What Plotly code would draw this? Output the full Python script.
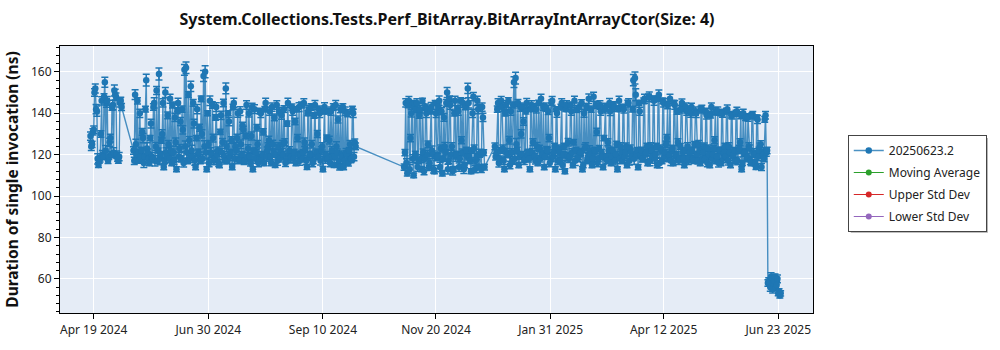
import pandas as pd
import plotly.graph_objects as go

# ---- data ----
# each segment: daily runs ("a", at 00:00) plus a second run each day ("b", at 12:00)
seg_starts = ["2024-04-17", "2024-05-14", "2024-10-31", "2024-12-27", "2025-06-17"]

seg1_a = [129, 125, 132, 152, 141, 115, 118, 146, 119, 155, 145, 117, 126, 120, 144, 151, 148, 118, 119, 146]
seg1_b = [124, 131, 150, 142, 118, 117, 130, 120, 148, 122, 146, 119, 128, 143, 121, 149, 120, 117, 145, 143]
seg1_err = [2.0, 1.5, 1.8, 2.2, 2.5, 1.2, 1.6, 2.0, 1.4, 2.4, 2.1, 1.3, 1.9, 1.5, 2.3, 2.6, 1.8, 1.2, 2.0, 1.7]

seg2_a = [
    122, 149, 120, 117, 140, 122, 128, 119, 156, 121,
    116, 135, 118, 145, 124, 117, 159, 120, 130, 114,
    150, 119, 125, 147, 116, 121, 138, 113, 145, 123,
    118, 132, 161, 162, 117, 127, 153, 119, 135, 114,
    142, 121, 117, 130, 158, 160, 113, 125, 146, 120,
    128, 118, 143, 122, 115, 139, 126, 119, 152, 117,
    136, 121, 114, 145, 124, 128, 118, 141, 120, 132,
    117, 144, 123, 119, 129, 113, 142, 121, 125, 118,
    140, 120, 116, 145, 122, 127, 119, 143, 121, 115,
    144, 124, 118, 139, 120, 126, 117, 145, 122, 119,
    141, 121, 116, 128, 143, 120, 118, 145, 123, 114,
    142, 120, 125, 117, 144, 121, 119, 140, 122, 113,
    143, 120, 118, 127, 141, 119, 115, 144, 121, 117,
    142, 119, 114, 141, 120, 116, 125, 118, 140, 126,
]
seg2_b = [
    117, 125, 146, 121, 119, 131, 116, 142, 123, 118,
    128, 119, 143, 117, 151, 122, 118, 127, 145, 117,
    121, 139, 118, 122, 144, 117, 126, 141, 119, 136,
    142, 116, 124, 121, 149, 118, 122, 145, 117, 128,
    120, 133, 147, 118, 124, 121, 140, 116, 121, 144,
    117, 138, 120, 116, 131, 121, 145, 117, 124, 140,
    119, 127, 143, 118, 122, 140, 117, 125, 134, 117,
    129, 119, 140, 116, 143, 122, 118, 133, 116, 141,
    118, 131, 142, 119, 124, 141, 116, 125, 138, 120,
    117, 141, 121, 125, 142, 116, 135, 120, 118, 143,
    118, 136, 142, 120, 117, 144, 121, 126, 117, 140,
    119, 143, 116, 139, 120, 130, 142, 117, 124, 141,
    118, 128, 141, 116, 122, 143, 119, 124, 137, 114,
    120, 143, 117, 121, 140, 122, 118, 142, 119, 124,
]
seg2_err = [
    1.8, 2.4, 1.5, 1.2, 2.0, 1.6, 2.2, 1.4, 2.8, 1.7,
    1.3, 2.1, 1.6, 2.5, 1.9, 1.2, 2.9, 1.5, 2.0, 1.3,
    2.4, 1.6, 1.8, 2.2, 1.4, 1.7, 2.0, 1.2, 2.3, 1.9,
    1.5, 2.0, 2.6, 2.8, 1.4, 1.8, 2.5, 1.6, 2.1, 1.3,
    2.2, 1.7, 1.4, 2.0, 2.7, 2.9, 1.2, 1.8, 2.3, 1.6,
    1.9, 1.4, 2.1, 1.7, 1.3, 2.0, 1.8, 1.5, 2.6, 1.2,
    2.0, 1.6, 1.3, 2.2, 1.8, 1.9, 1.4, 2.1, 1.6, 1.7,
    1.3, 2.0, 1.8, 1.5, 1.9, 1.2, 2.1, 1.6, 1.8, 1.4,
    2.0, 1.5, 1.3, 2.2, 1.7, 1.9, 1.4, 2.0, 1.6, 1.2,
    2.1, 1.8, 1.5, 1.9, 1.6, 1.7, 1.3, 2.2, 1.8, 1.5,
    2.0, 1.6, 1.3, 1.8, 2.1, 1.5, 1.4, 2.0, 1.7, 1.2,
    1.9, 1.6, 1.8, 1.4, 2.2, 1.7, 1.5, 2.0, 1.8, 1.3,
    2.1, 1.5, 1.4, 1.9, 2.0, 1.6, 1.2, 2.2, 1.7, 1.4,
    1.8, 1.6, 1.3, 2.0, 1.7, 1.5, 1.9, 1.4, 2.0, 1.6,
]

seg3_a = [
    114, 145, 111, 146, 128, 144, 110, 120, 145, 117,
    142, 113, 121, 118, 140, 125, 116, 143, 120, 112,
    140, 119, 146, 123, 111, 138, 121, 150, 117, 144,
    124, 113, 146, 120, 141, 118, 127, 145, 115, 122,
    152, 119, 112, 140, 123, 117, 146, 114, 121, 143,
    121,
]
seg3_b = [
    121, 116, 144, 113, 140, 118, 145, 142, 114, 139,
    118, 146, 112, 143, 120, 114, 141, 122, 113, 145,
    119, 143, 114, 141, 118, 124, 145, 113, 147, 120,
    112, 140, 119, 142, 114, 146, 121, 113, 143, 119,
    145, 117, 122, 148, 113, 119, 142, 120, 113, 138,
    114,
]
seg3_err = [
    1.5, 2.0, 1.3, 2.1, 1.8, 1.9, 1.2, 1.6, 2.0, 1.4,
    1.9, 1.3, 1.7, 1.5, 2.0, 1.6, 1.4, 2.2, 1.8, 1.2,
    2.0, 1.5, 2.3, 1.7, 1.3, 1.9, 1.6, 2.4, 1.4, 2.1,
    1.8, 1.3, 2.2, 1.6, 2.0, 1.5, 1.7, 2.1, 1.3, 1.6,
    2.5, 1.4, 1.2, 2.0, 1.7, 1.5, 2.2, 1.3, 1.6, 2.0,
    1.4,
]

seg4_a = [
    124, 121, 145, 118, 146, 123, 113, 144, 120, 127,
    141, 117, 155, 157, 122, 115, 143, 120, 136, 118,
    145, 121, 113, 144, 126, 119, 142, 116, 123, 147,
    120, 114, 143, 122, 128, 118, 146, 121, 113, 140,
    123, 117, 145, 120, 112, 144, 126, 119, 141, 115,
    146, 122, 118, 143, 121, 113, 140, 124, 117, 147,
    120, 115, 148, 122, 131, 118, 144, 121, 114, 142,
    119, 126, 145, 116, 122, 143, 120, 113, 146, 124,
    117, 142, 121, 115, 145, 123, 119, 156, 157, 120,
    114, 141, 122, 118, 147, 121, 116, 148, 124, 119,
    146, 120, 115, 149, 123, 117, 145, 121, 128, 118,
    147, 122, 116, 144, 120, 126, 118, 142, 121, 115,
    143, 124, 119, 140, 122, 117, 141, 120, 125, 116,
    142, 121, 118, 139, 123, 115, 143, 120, 127, 117,
    141, 122, 116, 140, 121, 119, 142, 124, 115, 139,
    120, 117, 141, 122, 126, 113, 140, 121, 118, 138,
    123, 116, 139, 120, 114, 137, 122, 125, 121, 118,
    139, 122,
]
seg4_b = [
    119, 142, 116, 122, 143, 117, 140, 121, 146, 115,
    121, 144, 118, 125, 145, 119, 130, 143, 117, 141,
    120, 118, 142, 121, 143, 117, 124, 145, 118, 121,
    143, 119, 122, 141, 116, 145, 119, 124, 142, 117,
    121, 143, 115, 124, 142, 119, 118, 144, 121, 126,
    117, 142, 119, 121, 145, 115, 123, 143, 119, 122,
    142, 118, 121, 144, 116, 123, 141, 119, 128, 143,
    117, 122, 141, 119, 144, 117, 125, 142, 118, 121,
    143, 119, 124, 145, 117, 121, 142, 118, 149, 122,
    145, 120, 118, 146, 120, 124, 148, 117, 122, 147,
    118, 124, 147, 116, 122, 146, 119, 125, 144, 120,
    117, 123, 145, 119, 141, 117, 124, 145, 118, 122,
    141, 117, 121, 143, 118, 125, 140, 117, 122, 142,
    118, 124, 141, 116, 120, 139, 118, 123, 141, 119,
    116, 122, 140, 118, 124, 141, 117, 121, 139, 119,
    122, 140, 117, 123, 139, 116, 121, 138, 119, 124,
    117, 139, 121, 116, 138, 119, 124, 114, 120, 137,
    121, 58,
]
seg4_err = [
    1.6, 1.5, 2.0, 1.4, 2.1, 1.7, 1.3, 2.0, 1.5, 1.8,
    1.9, 1.4, 2.6, 2.8, 1.6, 1.3, 2.0, 1.5, 1.8, 1.4,
    2.1, 1.6, 1.2, 2.0, 1.7, 1.5, 1.9, 1.3, 1.6, 2.2,
    1.5, 1.3, 2.0, 1.6, 1.8, 1.4, 2.1, 1.5, 1.2, 1.9,
    1.7, 1.4, 2.0, 1.5, 1.2, 2.1, 1.8, 1.4, 1.9, 1.3,
    2.2, 1.6, 1.4, 2.0, 1.5, 1.3, 1.9, 1.7, 1.4, 2.3,
    1.5, 1.3, 2.2, 1.6, 1.8, 1.4, 2.0, 1.5, 1.3, 1.9,
    1.4, 1.7, 2.1, 1.3, 1.6, 2.0, 1.5, 1.2, 2.2, 1.7,
    1.4, 1.9, 1.6, 1.3, 2.0, 1.7, 1.4, 2.7, 2.9, 1.5,
    1.3, 1.9, 1.6, 1.4, 2.2, 1.5, 1.3, 2.3, 1.7, 1.4,
    2.1, 1.5, 1.3, 2.3, 1.7, 1.4, 2.0, 1.6, 1.8, 1.4,
    2.2, 1.6, 1.3, 2.0, 1.5, 1.7, 1.4, 1.9, 1.6, 1.3,
    2.0, 1.7, 1.4, 1.9, 1.6, 1.3, 2.0, 1.5, 1.8, 1.4,
    1.9, 1.6, 1.4, 1.8, 1.7, 1.3, 2.0, 1.5, 1.7, 1.4,
    2.0, 1.6, 1.3, 1.9, 1.5, 1.4, 2.0, 1.7, 1.3, 1.8,
    1.5, 1.4, 1.9, 1.6, 1.7, 1.2, 1.9, 1.5, 1.4, 1.8,
    1.7, 1.3, 1.8, 1.5, 1.2, 1.9, 1.6, 1.7, 1.5, 1.4,
    1.8, 1.6,
]

seg5_a = [59, 56, 60, 58, 61, 57, 53, 52]
seg5_b = [58, 61, 55, 59, 56, 60, 54, 53]
seg5_err = [1.5, 2.0, 1.8, 1.6, 1.4, 1.9, 1.2, 1.3]

x_tick_dates = ["2024-04-19", "2024-06-30", "2024-09-10", "2024-11-20",
                "2025-01-31", "2025-04-12", "2025-06-23"]
x_tick_labels = ["Apr 19 2024", "Jun 30 2024", "Sep 10 2024", "Nov 20 2024",
                 "Jan 31 2025", "Apr 12 2025", "Jun 23 2025"]

series_name = "20250623.2"
legend_names = ["Moving Average", "Upper Std Dev", "Lower Std Dev"]
legend_colors = ["#2ca02c", "#d62728", "#9467bd"]

title_text = "System.Collections.Tests.Perf_BitArray.BitArrayIntArrayCtor(Size: 4)"
y_title = "Duration of single invocation (ns)"

# ---- assemble ----
segments = [
    (seg1_a, seg1_b, seg1_err),
    (seg2_a, seg2_b, seg2_err),
    (seg3_a, seg3_b, seg3_err),
    (seg4_a, seg4_b, seg4_err),
    (seg5_a, seg5_b, seg5_err),
]
xs, ys, es = [], [], []
for start, (va, vb, e) in zip(seg_starts, segments):
    days = pd.date_range(start, periods=len(va), freq="D")
    for d, a, b, err in zip(days, va, vb, e):
        xs.append(d)
        ys.append(a)
        es.append(err)
        xs.append(d + pd.Timedelta(hours=12))
        ys.append(b)
        es.append(err)

BLUE = "#1f77b4"
FONT = "Noto Sans"

fig = go.Figure()
fig.add_trace(go.Scatter(
    x=xs, y=ys, name=series_name, mode="lines+markers", legendgroup="g0",
    line=dict(color="rgba(31,119,180,0.8)", width=1.4),
    marker=dict(color=BLUE, size=6.5),
    error_y=dict(type="data", array=es, visible=True, color=BLUE, thickness=1.5, width=3.5),
))
for i, (nm, col) in enumerate(zip(legend_names, legend_colors)):
    fig.add_trace(go.Scatter(
        x=[None], y=[None], name=nm, mode="lines+markers", legendgroup="g%d" % (i + 1),
        line=dict(color=col, width=1.2), marker=dict(color=col, size=6),
    ))

L, R, T, B = 55, 187, 46, 31
W, H = 1000, 350
pw, ph = W - L - R, H - T - B

def px2x(p):
    return (p - L) / pw

def px2y(p):
    return (H - B - p) / ph

# legend drop shadow (legend box spans about x 848..986, y 137..233)
lx0, ly0 = 848, 137
sx0, sx1, sy0, sy1 = 851, 989, 140, 237
fig.add_shape(type="rect", xref="paper", yref="paper",
              x0=px2x(sx0), x1=px2x(sx1), y0=px2y(sy1), y1=px2y(sy0),
              fillcolor="#a8a8a8", line=dict(width=0), layer="above")

fig.update_layout(
    width=W, height=H,
    margin=dict(l=L, r=R, t=T, b=B),
    paper_bgcolor="white",
    plot_bgcolor="#E5ECF6",
    font=dict(family=FONT, size=12, color="#222"),
    title=dict(text="<b>" + title_text + "</b>", x=0.447, xanchor="center",
               y=1 - 19 / H, yanchor="middle", font=dict(family=FONT, size=16, color="#111")),
    showlegend=True,
    legend=dict(x=px2x(lx0), y=px2y(ly0), xanchor="left", yanchor="top",
                bgcolor="white", bordercolor="#444", borderwidth=1,
                tracegroupgap=3, itemwidth=30,
                font=dict(family=FONT, size=12, color="#222")),
    xaxis=dict(
        type="date",
        range=["2024-03-28 20:00", "2025-07-14 20:00"],
        tickmode="array", tickvals=x_tick_dates, ticktext=x_tick_labels,
        showgrid=True, gridcolor="white", gridwidth=1,
        showline=True, linecolor="black", linewidth=1.2, mirror=True,
        ticks="outside", ticklen=5, tickcolor="black",
        zeroline=False,
    ),
    yaxis=dict(
        range=[43.5, 172.5],
        tick0=0, dtick=20,
        showgrid=True, gridcolor="white", gridwidth=1,
        showline=True, linecolor="black", linewidth=1.2, mirror=True,
        ticks="outside", ticklen=5, tickcolor="black",
        minor=dict(dtick=4, ticks="outside", ticklen=3, tickcolor="black", showgrid=False),
        zeroline=False,
        title=dict(text="<b>" + y_title + "</b>", font=dict(family=FONT, size=15.5, color="#111"), standoff=8),
    ),
)

fig.write_html("out.html")
